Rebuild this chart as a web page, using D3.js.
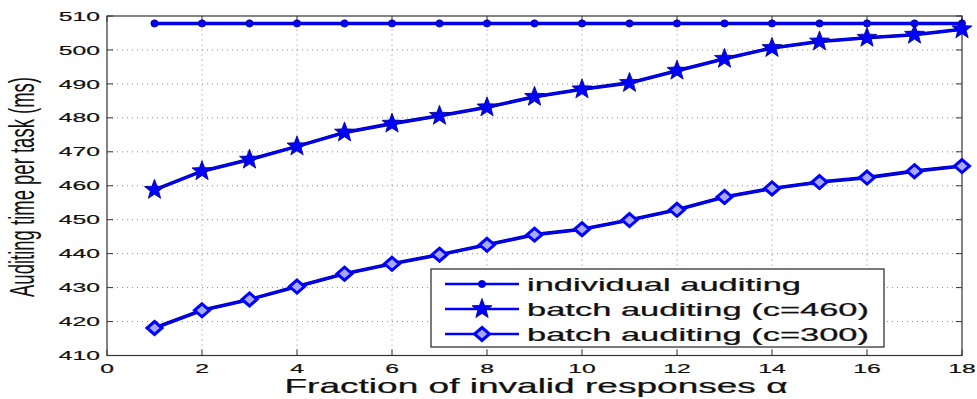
<!DOCTYPE html>
<html>
<head>
<meta charset="utf-8">
<script src="https://cdn.jsdelivr.net/npm/d3@7"></script>
<style>
  html, body { margin: 0; padding: 0; background: #fff; }
  svg { display: block; font-family: 'Liberation Sans', Arial, Helvetica, sans-serif; }
</style>
</head>
<body>
<div id="chart"></div>
<script>
// data
const alpha = [1, 2, 3, 4, 5, 6, 7, 8, 9, 10, 11, 12, 13, 14, 15, 16, 17, 18]
const individual = [507.8, 507.8, 507.8, 507.8, 507.8, 507.8, 507.8, 507.8, 507.8, 507.8, 507.8, 507.8, 507.8, 507.8, 507.8, 507.8, 507.8, 507.8]
const batch460 = [458.8, 464.3, 467.7, 471.6, 475.7, 478.3, 480.6, 483.1, 486.2, 488.4, 490.3, 493.9, 497.4, 500.6, 502.5, 503.6, 504.5, 506.1]
const batch300 = [418.1, 423.3, 426.5, 430.3, 434.1, 437.0, 439.7, 442.6, 445.6, 447.2, 449.9, 452.9, 456.7, 459.2, 461.1, 462.4, 464.3, 465.8]
const xTicks = [0, 2, 4, 6, 8, 10, 12, 14, 16, 18]
const yTicks = [410, 420, 430, 440, 450, 460, 470, 480, 490, 500, 510]
const seriesNames = ['individual auditing', 'batch auditing (c=460)', 'batch auditing (c=300)']

let width = 977
let height = 399
let margin = { top: 16, right: 15, bottom: 43.5, left: 107 }
let stretch = 1.9 // original figure was stretched horizontally
let blue = '#0000ff'

let svg = d3.select('#chart')
  .append('svg')
  .attr('width', width)
  .attr('height', height)

let x = d3.scaleLinear().domain([0, 18]).range([margin.left, width - margin.right])
let y = d3.scaleLinear().domain([410, 510]).range([height - margin.bottom, margin.top])

// grid
let grid = svg.append('g')
  .attr('stroke', '#8a8a8a')
  .attr('stroke-width', 1)
  .attr('stroke-dasharray', '1,4')
grid.selectAll('.gx')
  .data(xTicks.slice(1, -1))
  .enter().append('line')
  .attr('x1', d => x(d)).attr('x2', d => x(d))
  .attr('y1', y(410)).attr('y2', y(510))
grid.selectAll('.gy')
  .data(yTicks.slice(1, -1))
  .enter().append('line')
  .attr('x1', x(0)).attr('x2', x(18))
  .attr('y1', d => y(d)).attr('y2', d => y(d))

// frame
svg.append('rect')
  .attr('x', x(0)).attr('y', y(510))
  .attr('width', x(18) - x(0)).attr('height', y(410) - y(510))
  .attr('fill', 'none')
  .attr('stroke', '#333')
  .attr('stroke-width', 1.2)

// ticks (inward)
let ticks = svg.append('g').attr('stroke', '#333').attr('stroke-width', 1)
xTicks.forEach(d => {
  ticks.append('line').attr('x1', x(d)).attr('x2', x(d)).attr('y1', y(410)).attr('y2', y(410) - 6)
  ticks.append('line').attr('x1', x(d)).attr('x2', x(d)).attr('y1', y(510)).attr('y2', y(510) + 6)
})
yTicks.forEach(d => {
  ticks.append('line').attr('x1', x(0)).attr('x2', x(0) + 6).attr('y1', y(d)).attr('y2', y(d))
  ticks.append('line').attr('x1', x(18)).attr('x2', x(18) - 6).attr('y1', y(d)).attr('y2', y(d))
})

// tick labels
svg.append('g').selectAll('text')
  .data(xTicks)
  .enter().append('text')
  .attr('transform', d => `translate(${x(d)},373) scale(${stretch},1)`)
  .attr('text-anchor', 'middle')
  .attr('font-size', 13)
  .attr('fill', '#111')
  .attr('stroke', '#111').attr('stroke-width', 0.2)
  .text(d => d)
svg.append('g').selectAll('text')
  .data(yTicks)
  .enter().append('text')
  .attr('transform', d => `translate(100,${y(d) + 4.6}) scale(${stretch},1)`)
  .attr('text-anchor', 'end')
  .attr('font-size', 13)
  .attr('fill', '#111')
  .attr('stroke', '#111').attr('stroke-width', 0.2)
  .text(d => d)

// axis titles
svg.append('text')
  .attr('transform', `translate(536,393) scale(${stretch},1)`)
  .attr('text-anchor', 'middle')
  .attr('font-size', 19.5)
  .attr('fill', '#111')
  .attr('stroke', '#111').attr('stroke-width', 0.25)
  .text('Fraction of invalid responses α')
svg.append('text')
  .attr('transform', `translate(34,187) rotate(-90) scale(1,${stretch})`)
  .attr('text-anchor', 'middle')
  .attr('font-size', 18)
  .attr('fill', '#111')
  .attr('textLength', 220)
  .attr('lengthAdjust', 'spacingAndGlyphs')
  .text('Auditing time per task (ms)')

// markers
function starPath(r) {
  let pts = []
  for (let i = 0; i < 10; i++) {
    let rad = i % 2 === 0 ? r : r * 0.42
    let a = -Math.PI / 2 + i * Math.PI / 5
    pts.push([rad * Math.cos(a), rad * Math.sin(a)])
  }
  return 'M' + pts.map(p => p.join(',')).join('L') + 'Z'
}
function drawMarker(g, kind) {
  if (kind === 0) {
    g.append('circle').attr('r', 3.6).attr('fill', blue).attr('stroke', '#00008a').attr('stroke-width', 0.8)
  } else if (kind === 1) {
    g.append('path').attr('d', starPath(10.5)).attr('fill', blue).attr('stroke', '#00008a').attr('stroke-width', 0.8)
  } else {
    g.append('path').attr('d', 'M0,-6.5L7.5,0L0,6.5L-7.5,0Z')
      .attr('fill', '#a8a8ff').attr('stroke', blue).attr('stroke-width', 3)
  }
}

let line = d3.line().x(d => x(d[0])).y(d => y(d[1]))
let allSeries = [individual, batch460, batch300]

allSeries.forEach((vals, k) => {
  let pts = alpha.map((a, i) => [a, vals[i]])
  svg.append('path')
    .datum(pts)
    .attr('d', line)
    .attr('fill', 'none')
    .attr('stroke', '#00008a')
    .attr('stroke-width', 3.6)
  svg.append('path')
    .datum(pts)
    .attr('d', line)
    .attr('fill', 'none')
    .attr('stroke', blue)
    .attr('stroke-width', 2.4)
  pts.forEach(p => {
    let g = svg.append('g').attr('transform', `translate(${x(p[0])},${y(p[1])})`)
    drawMarker(g, k)
  })
})

// legend
let legend = svg.append('g')
legend.append('rect')
  .attr('x', 431).attr('y', 269)
  .attr('width', 453).attr('height', 78)
  .attr('fill', '#fff')
  .attr('stroke', '#222')
  .attr('stroke-width', 1.2)
seriesNames.forEach((name, k) => {
  let ly = 284 + k * 25
  legend.append('line')
    .attr('x1', 445).attr('x2', 519)
    .attr('y1', ly).attr('y2', ly)
    .attr('stroke', blue).attr('stroke-width', 2.6)
  drawMarker(legend.append('g').attr('transform', `translate(482,${ly})`), k)
  legend.append('text')
    .attr('transform', `translate(527,${ly + 6.5}) scale(1.97,1)`)
    .attr('font-size', 17.5)
    .attr('fill', '#111')
    .attr('stroke', '#111').attr('stroke-width', 0.25)
    .text(name)
})
</script>
</body>
</html>
